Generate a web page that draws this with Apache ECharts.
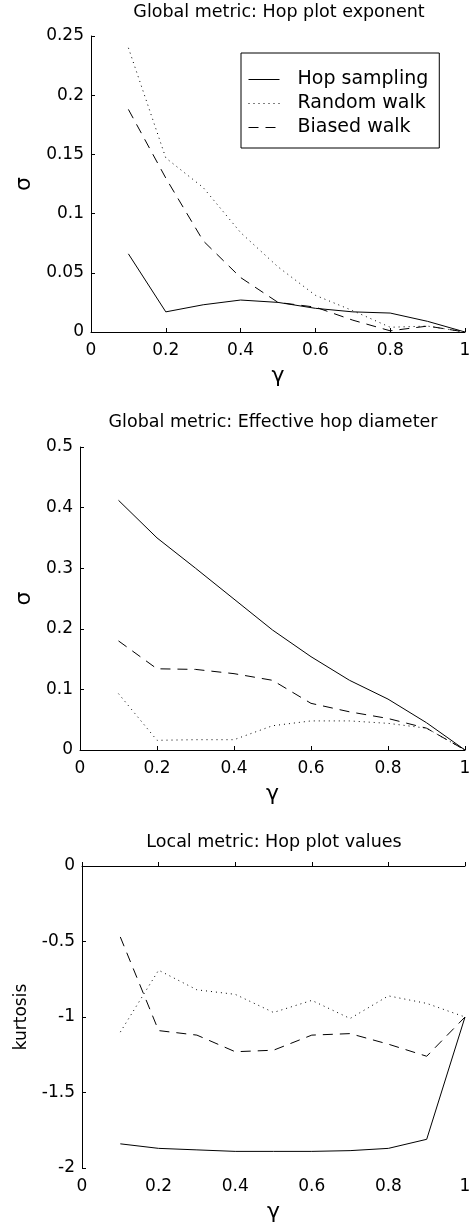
<!DOCTYPE html>
<html>
<head>
<meta charset="utf-8">
<script src="https://cdn.jsdelivr.net/npm/echarts@6/dist/echarts.min.js"></script>
<style>
    html, body { margin: 0; padding: 0; background: #fff; }
    #chart { width: 474px; height: 1230px; }
</style>
</head>
<body>
<div id="chart"></div>
<script>
// gamma values on the x axis
const gamma = [0.1, 0.2, 0.3, 0.4, 0.5, 0.6, 0.7, 0.8, 0.9, 1.0];
const seriesNames = ['Hop sampling', 'Random walk', 'Biased walk'];

// panel 1: hop plot exponent
const expHop = [0.066, 0.017, 0.023, 0.027, 0.025, 0.020, 0.017, 0.016, 0.009, 0];
const expRandom = [0.240, 0.147, 0.122, 0.084, 0.055, 0.031, 0.018, 0.004, 0.005, 0];
const expBiased = [0.188, 0.130, 0.077, 0.046, 0.025, 0.021, 0.010, 0.001, 0.005, 0];

// panel 2: effective hop diameter
const diamHop = [0.412, 0.350, 0.300, 0.249, 0.198, 0.154, 0.115, 0.084, 0.045, 0];
const diamRandom = [0.093, 0.016, 0.017, 0.017, 0.040, 0.048, 0.048, 0.044, 0.036, 0];
const diamBiased = [0.180, 0.134, 0.133, 0.126, 0.115, 0.077, 0.063, 0.052, 0.036, 0];

// panel 3: hop plot values (kurtosis)
const kurtHop = [-1.84, -1.87, -1.88, -1.89, -1.89, -1.89, -1.885, -1.87, -1.81, -1.00];
const kurtRandom = [-1.10, -0.69, -0.82, -0.85, -0.97, -0.89, -1.01, -0.86, -0.91, -1.00];
const kurtBiased = [-0.47, -1.09, -1.12, -1.23, -1.22, -1.12, -1.11, -1.18, -1.26, -1.00];

const titles = [
    'Global metric: Hop plot exponent',
    'Global metric: Effective hop diameter',
    'Local metric: Hop plot values'
];
const yNames = ['σ', 'σ', 'kurtosis'];

const font = 'DejaVu Sans';
const lineTypes = ['solid', [1, 4], [10, 7]];

const pairs = (ys) => gamma.map((g, i) => [g, ys[i]]);

const grids = [
    { left: 91, right: 9, top: 36, height: 296 },
    { left: 80, right: 9, top: 447, height: 303 },
    { left: 82, right: 9, top: 866, height: 302 }
];

const xAxisBase = (idx) => ({
    type: 'value',
    gridIndex: idx,
    min: 0,
    max: 1,
    interval: 0.2,
    name: 'γ',
    nameLocation: 'middle',
    nameGap: 33,
    nameTextStyle: { fontFamily: font, fontSize: 22, color: '#000' },
    axisLine: { lineStyle: { color: '#000', width: 1 } },
    axisTick: { inside: true, length: 4, lineStyle: { color: '#000' } },
    axisLabel: { fontFamily: font, fontSize: 17, color: '#000', margin: 10 },
    splitLine: { show: false }
});

const yAxes = [
    { min: 0, max: 0.25, interval: 0.05, gap: 50, size: 22 },
    { min: 0, max: 0.5, interval: 0.1, gap: 39, size: 22 },
    { min: -2, max: 0, interval: 0.5, gap: 52, size: 17 }
].map((a, idx) => ({
    type: 'value',
    gridIndex: idx,
    min: a.min,
    max: a.max,
    interval: a.interval,
    name: yNames[idx],
    nameLocation: 'middle',
    nameGap: a.gap,
    nameTextStyle: { fontFamily: font, fontSize: a.size, color: '#000' },
    axisLine: { show: true, lineStyle: { color: '#000', width: 1 } },
    axisTick: { show: true, inside: true, length: 4, lineStyle: { color: '#000' } },
    axisLabel: { fontFamily: font, fontSize: 17, color: '#000', margin: 7 },
    splitLine: { show: false }
}));

const panelData = [
    [expHop, expRandom, expBiased],
    [diamHop, diamRandom, diamBiased],
    [kurtHop, kurtRandom, kurtBiased]
];

const series = [];
panelData.forEach((set, idx) => {
    set.forEach((ys, k) => {
        series.push({
            name: seriesNames[k],
            type: 'line',
            xAxisIndex: idx,
            yAxisIndex: idx,
            symbol: 'none',
            color: '#000',
            animation: false,
            lineStyle: { color: '#000', width: 1, type: lineTypes[k] },
            data: pairs(ys)
        });
    });
});

const option = {
    backgroundColor: '#fff',
    animation: false,
    title: [
        { text: titles[0], left: 279, top: 3 },
        { text: titles[1], left: 273, top: 413 },
        { text: titles[2], left: 274, top: 833 }
    ].map(t => ({
        text: t.text,
        left: t.left,
        top: t.top,
        textAlign: 'center',
        padding: 0,
        textStyle: { fontFamily: font, fontSize: 17.5, fontWeight: 'normal', color: '#000' }
    })),
    legend: {
        data: seriesNames,
        orient: 'vertical',
        left: 241,
        top: 53,
        itemWidth: 31,
        itemHeight: 14,
        itemGap: 3,
        padding: [16, 11, 10, 7],
        borderColor: '#000',
        borderWidth: 1,
        borderRadius: 0,
        backgroundColor: '#fff',
        itemStyle: { opacity: 0 },
        lineStyle: { width: 1 },
        textStyle: { fontFamily: font, fontSize: 19, color: '#000', padding: [0, 0, 0, 13], lineHeight: 21 }
    },
    grid: grids,
    xAxis: [0, 1, 2].map(xAxisBase),
    yAxis: yAxes,
    series: series
};

const chart = echarts.init(document.getElementById('chart'));
chart.setOption(option);
</script>
</body>
</html>
